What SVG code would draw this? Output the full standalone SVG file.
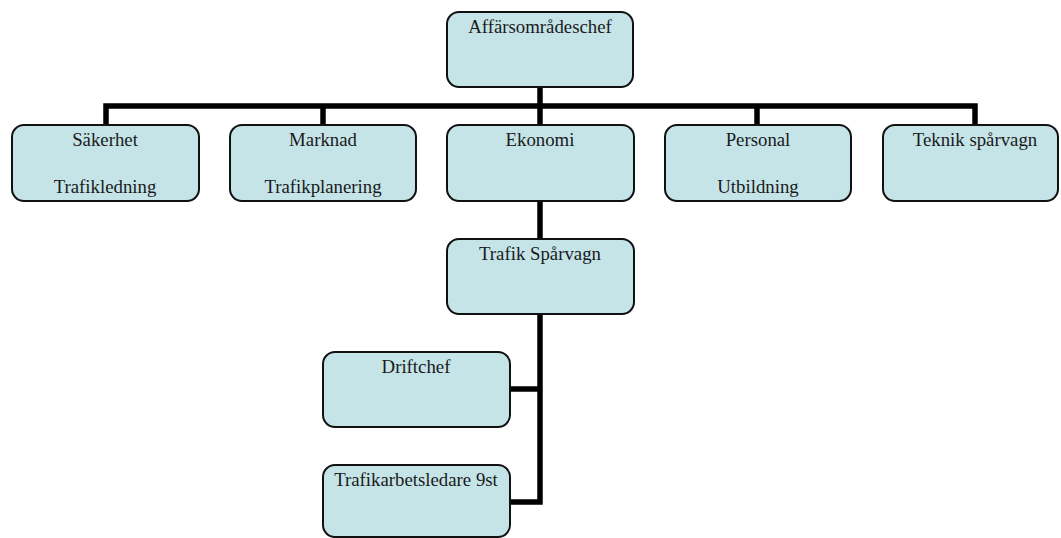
<svg xmlns="http://www.w3.org/2000/svg" width="1061" height="538" viewBox="0 0 1061 538">
<style>
.box{fill:#C5E4E8;stroke:#111;stroke-width:2}
.lbl{font-family:"Liberation Serif","Times New Roman",serif;font-size:18.8px;fill:#1a1a1a;text-anchor:middle}
.con{fill:none;stroke:#000;stroke-width:5.5;stroke-linejoin:miter;stroke-linecap:butt}
</style>
<rect width="1061" height="538" fill="#fff"/>
<g id="connectors">
<path class="con" d="M540 87V125"/>
<path class="con" d="M106 125V106H975V125"/>
<path class="con" d="M323 106V125"/>
<path class="con" d="M757 106V125"/>
<path class="con" d="M540 201V239"/>
<path class="con" d="M540 314V502H510"/>
<path class="con" d="M540 389H510"/>
</g>
<g id="n-chef"><rect class="box" x="447" y="12" width="186" height="75" rx="12"/><text class="lbl" x="540" y="33">Affärsområdeschef</text></g>
<g id="n-sakerhet"><rect class="box" x="12" y="125" width="187" height="76" rx="12"/><text class="lbl" x="105" y="146">Säkerhet</text><text class="lbl" x="105" y="193">Trafikledning</text></g>
<g id="n-marknad"><rect class="box" x="230" y="125" width="186" height="76" rx="12"/><text class="lbl" x="323" y="146">Marknad</text><text class="lbl" x="323" y="193">Trafikplanering</text></g>
<g id="n-ekonomi"><rect class="box" x="447" y="125" width="187" height="76" rx="12"/><text class="lbl" x="540" y="146">Ekonomi</text></g>
<g id="n-personal"><rect class="box" x="665" y="125" width="186" height="76" rx="12"/><text class="lbl" x="758" y="146">Personal</text><text class="lbl" x="758" y="193">Utbildning</text></g>
<g id="n-teknik"><rect class="box" x="883" y="125" width="175" height="76" rx="12"/><text class="lbl" x="975" y="146">Teknik spårvagn</text></g>
<g id="n-trafik"><rect class="box" x="447" y="239" width="187" height="75" rx="12"/><text class="lbl" x="540" y="260">Trafik Spårvagn</text></g>
<g id="n-drift"><rect class="box" x="323" y="352" width="187" height="75" rx="12"/><text class="lbl" x="416" y="373">Driftchef</text></g>
<g id="n-tal"><rect class="box" x="323" y="465" width="187" height="72" rx="12"/><text class="lbl" x="416" y="486">Trafikarbetsledare 9st</text></g>
</svg>
